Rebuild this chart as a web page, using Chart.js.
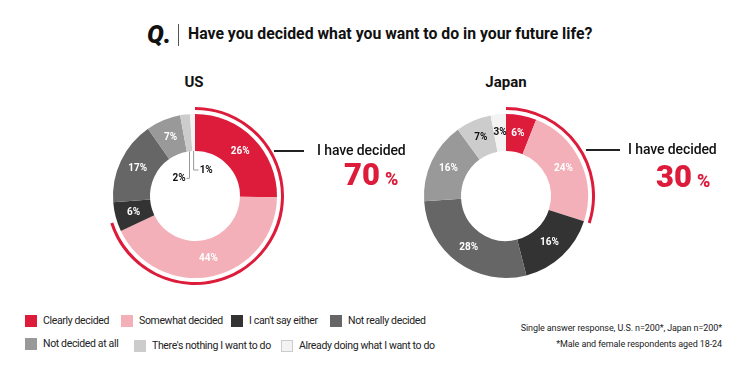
<!DOCTYPE html>
<html>
<head>
<meta charset="utf-8">
<script src="https://cdn.jsdelivr.net/npm/chart.js@4/dist/chart.umd.min.js"></script>
<style>
  body { margin: 0; width: 746px; height: 378px; background: #fff; font-family: Roboto, "DejaVu Sans", sans-serif; color: #222; position: relative; overflow: hidden; }
  .abs { position: absolute; white-space: nowrap; }
  #q { left: 147px; top: 20px; font-size: 25px; font-weight: 900; font-style: italic; color: #111; }
  #sep { left: 178px; top: 24px; width: 1px; height: 22px; background: #555; }
  #title { left: 188px; top: 24px; font-size: 15.8px; font-weight: 700; color: #111; }
  .country { font-size: 15px; font-weight: 700; color: #111; transform: translateX(-50%); }
  .decided { font-size: 14px; font-weight: 500; color: #111; letter-spacing: -0.1px; }
  .big { color: #dc1c3a; font-weight: 900; }
  .big .n { font-size: 31px; }
  .big .p { font-size: 18px; margin-left: 5px; }
  .lead { height: 1.5px; background: #222; }
  .leg { font-size: 10.5px; letter-spacing: -0.35px; color: #222; display: flex; align-items: center; }
  .leg i { display: inline-block; width: 12px; height: 12px; margin-right: 6px; box-sizing: border-box; }
  .note { font-size: 9px; letter-spacing: -0.1px; color: #222; right: 24px; }
</style>
</head>
<body>
<div class="abs" id="q">Q.</div>
<div class="abs" id="sep"></div>
<div class="abs" id="title">Have you decided what you want to do in your future life?</div>

<div class="abs country" style="left:194px; top:73px;">US</div>
<div class="abs country" style="left:506px; top:73px;">Japan</div>

<canvas id="us" class="abs" width="178" height="178" style="left:106px; top:107px;"></canvas>
<canvas id="jp" class="abs" width="178" height="178" style="left:417px; top:107px;"></canvas>

<div class="abs lead" style="left:274px; top:150px; width:30px;"></div>
<div class="abs decided" style="left:317px; top:142px;">I have decided</div>
<div class="abs big" id="usBig" style="left:344px; top:156px;"></div>

<div class="abs lead" style="left:586px; top:149px; width:34px;"></div>
<div class="abs decided" style="left:628px; top:141px;">I have decided</div>
<div class="abs big" id="jpBig" style="left:656px; top:158px;"></div>

<div id="legend"></div>

<div class="abs note" style="top:323px;">Single answer response, U.S. n=200*, Japan n=200*</div>
<div class="abs note" style="top:339px;">*Male and female respondents aged 18-24</div>

<script>
const categories = ['Clearly decided', 'Somewhat decided', "I can't say either", 'Not really decided',
  'Not decided at all', "There's nothing I want to do", 'Already doing what I want to do'];
const usValues = [26, 44, 6, 17, 7, 2, 1];
const jpValues = [6, 24, 16, 28, 16, 7, 3];
const usDecided = 70;
const jpDecided = 30;

const colors = ['#dc1c3a', '#f3b0b8', '#333333', '#666666', '#999999', '#cccccc', '#f3f3f3'];
const labelColors = ['#fff', '#fff', '#fff', '#fff', '#fff', '#111', '#111'];
const red = '#dc1c3a';

// percent labels on the main ring; tiny slices get a leader into the hole
const pctLabels = {
  id: 'pctLabels',
  afterDatasetsDraw(chart) {
    const ctx = chart.ctx;
    const meta = chart.getDatasetMeta(2);
    const values = chart.data.datasets[2].data;
    const smallest = Math.min(...values);
    ctx.save();
    ctx.font = '700 10px Roboto, sans-serif';
    ctx.textBaseline = 'middle';
    meta.data.forEach((arc, i) => {
      const v = values[i];
      const txt = v + '%';
      if (v <= 2) {
        const a = (arc.startAngle + arc.endAngle) / 2;
        const x0 = arc.x + Math.cos(a) * arc.innerRadius;
        const y0 = arc.y + Math.sin(a) * arc.innerRadius;
        const right = v === smallest;
        const drop = right ? 19 : 27;
        ctx.strokeStyle = '#999';
        ctx.lineWidth = 1;
        ctx.beginPath();
        ctx.moveTo(x0, y0);
        ctx.lineTo(x0, y0 + drop);
        ctx.lineTo(x0 + (right ? 5 : -3), y0 + drop);
        ctx.stroke();
        ctx.fillStyle = '#111';
        ctx.textAlign = right ? 'left' : 'right';
        ctx.fillText(txt, x0 + (right ? 6 : -4), y0 + drop);
        return;
      }
      const p = arc.tooltipPosition();
      ctx.fillStyle = labelColors[i];
      ctx.textAlign = 'center';
      ctx.fillText(txt, p.x, p.y);
    });
    ctx.restore();
  }
};

function makeDonut(id, values, decided) {
  new Chart(document.getElementById(id), {
    type: 'doughnut',
    data: {
      labels: categories,
      datasets: [
        { data: [decided, 100 - decided], backgroundColor: [red, 'rgba(0,0,0,0)'], borderWidth: 0, weight: 3 },
        { data: [100], backgroundColor: 'rgba(0,0,0,0)', borderWidth: 0, weight: 4 },
        { data: values, backgroundColor: colors, borderWidth: 0, weight: 37 }
      ]
    },
    options: {
      responsive: false,
      animation: false,
      cutout: 45,
      layout: { padding: 0 },
      plugins: { legend: { display: false }, tooltip: { enabled: false } }
    },
    plugins: [pctLabels]
  });
}

makeDonut('us', usValues, usDecided);
makeDonut('jp', jpValues, jpDecided);

document.getElementById('usBig').innerHTML = '<span class="n">' + usDecided + '</span><span class="p">%</span>';
document.getElementById('jpBig').innerHTML = '<span class="n">' + jpDecided + '</span><span class="p">%</span>';

// legend, two rows
const legendPos = [[25, 315], [121, 315], [231, 315], [330, 315], [25, 338], [134, 340], [281, 340]];
const legend = document.getElementById('legend');
categories.forEach((c, i) => {
  const d = document.createElement('div');
  d.className = 'abs leg';
  d.style.left = legendPos[i][0] + 'px';
  d.style.top = (legendPos[i][1] - 1) + 'px';
  const border = i === 6 ? 'border:1px solid #ccc;' : '';
  d.innerHTML = '<i style="background:' + colors[i] + ';' + border + '"></i>' + c;
  legend.appendChild(d);
});
</script>
</body>
</html>
